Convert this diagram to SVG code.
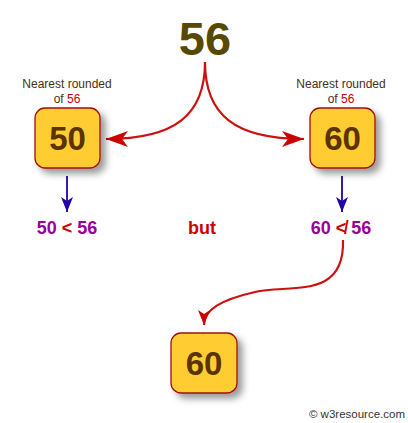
<svg xmlns="http://www.w3.org/2000/svg" width="408" height="423" viewBox="0 0 408 423">
<defs>
<filter id="sh" x="-30%" y="-30%" width="170%" height="170%">
<feDropShadow dx="5" dy="5" stdDeviation="3.5" flood-color="#000" flood-opacity="0.4"/>
</filter>
<marker id="redBig" markerUnits="userSpaceOnUse" markerWidth="24" markerHeight="18" refX="22" refY="8" orient="auto">
<path d="M0,0 L22,8 L0,16 L6,8 z" fill="#cc0000"/>
</marker>
<marker id="redSmall" markerUnits="userSpaceOnUse" markerWidth="16" markerHeight="14" refX="15" refY="6" orient="auto">
<path d="M0,0 L15,6 L0,12 L4,6 z" fill="#cc0000"/>
</marker>
<marker id="blue" markerUnits="userSpaceOnUse" markerWidth="16" markerHeight="14" refX="15" refY="6" orient="auto">
<path d="M0,0 L15,6 L0,12 L4,6 z" fill="#2200aa"/>
</marker>
</defs>
<style>
.box{fill:#ffcc33;stroke:#a01010;stroke-width:1.3}
.num{font-family:"Liberation Sans",Arial,sans-serif;font-weight:bold;font-size:33px;fill:#5a3300;text-anchor:middle}
.lbl{font-family:"Liberation Sans",Arial,sans-serif;font-size:12px;fill:#4b2e12;text-anchor:middle}
.red{fill:#cc0000}
.cmp{font-family:"Liberation Sans",Arial,sans-serif;font-weight:bold;font-size:18px;fill:#990099;text-anchor:middle}
.rc{fill:none;stroke:#cc1111;stroke-width:2.2}
.bc{fill:none;stroke:#2200aa;stroke-width:1.8}
</style>
<text x="205" y="55" font-family="'Liberation Sans',Arial,sans-serif" font-weight="bold" font-size="47" fill="#574a00" text-anchor="middle">56</text>
<g id="connectors">
<path class="rc" d="M205,62 C205,115 175,139 106,139" marker-end="url(#redBig)"/>
<path class="rc" d="M205,62 C205,115 235,139 304,139" marker-end="url(#redBig)"/>
<path class="bc" d="M67,176 L67,212" marker-end="url(#blue)"/>
<path class="bc" d="M342,176 L342,212" marker-end="url(#blue)"/>
<path class="rc" stroke-width="1.6" d="M343,240 C345,300 290,284 255,292 C220,300 204,310 204,325" marker-end="url(#redSmall)"/>
</g>
<g id="label-left">
<text class="lbl" x="67" y="88">Nearest rounded</text>
<text class="lbl" x="67" y="103">of <tspan class="red">56</tspan></text>
</g>
<g id="label-right">
<text class="lbl" x="341" y="88">Nearest rounded</text>
<text class="lbl" x="341" y="103">of <tspan class="red">56</tspan></text>
</g>
<g id="node-50">
<rect class="box" x="35" y="108" width="65" height="60" rx="10" filter="url(#sh)"/>
<text class="num" x="67.5" y="150">50</text>
</g>
<g id="node-60">
<rect class="box" x="310" y="108" width="65" height="60" rx="10" filter="url(#sh)"/>
<text class="num" x="342.5" y="150">60</text>
</g>
<g id="cmp-left">
<text class="cmp" x="67" y="234">50 <tspan class="red">&lt;</tspan> 56</text>
</g>
<g id="but">
<text class="cmp" x="202" y="234" style="fill:#cc0000">but</text>
</g>
<g id="cmp-right">
<text class="cmp" x="341" y="234">60 <tspan class="red">≮</tspan> 56</text>
</g>
<g id="node-result">
<rect class="box" x="171" y="333" width="66" height="60" rx="10" filter="url(#sh)"/>
<text class="num" x="204" y="375">60</text>
</g>
<text x="405" y="418" font-family="'Liberation Sans',Arial,sans-serif" font-size="11.5" fill="#333" text-anchor="end">© w3resource.com</text>
</svg>
